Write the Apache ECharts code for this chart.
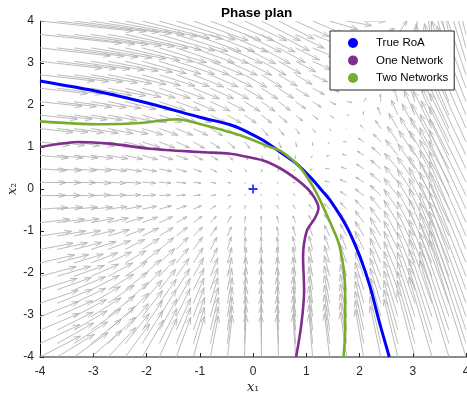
<!DOCTYPE html>
<html><head><meta charset="utf-8">
<script src="https://cdn.jsdelivr.net/npm/echarts@6/dist/echarts.min.js"></script>
<style>html,body{margin:0;padding:0;background:#fff}#c{width:467px;height:401px}</style>
</head><body><div id="c"></div>
<script>
// ---- data read (estimated) from the reference picture ----
const X_TICKS = [-4, -3, -2, -1, 0, 1, 2, 3, 4];
const Y_TICKS = [-4, -3, -2, -1, 0, 1, 2, 3, 4];

// quiver grid positions (26 x 26, step 0.32)
const FIELD_X = [-4,-3.68,-3.36,-3.04,-2.72,-2.4,-2.08,-1.76,-1.44,-1.12,-0.8,-0.48,-0.16,0.16,0.48,0.8,1.12,1.44,1.76,2.08,2.4,2.72,3.04,3.36,3.68,4];
const FIELD_Y = [-4,-3.68,-3.36,-3.04,-2.72,-2.4,-2.08,-1.76,-1.44,-1.12,-0.8,-0.48,-0.16,0.16,0.48,0.8,1.12,1.44,1.76,2.08,2.4,2.72,3.04,3.36,3.68,4];

// drawn arrow components in data units; rows follow FIELD_Y, columns follow FIELD_X
const FIELD_DX = [
[0.76,0.70,0.64,0.58,0.52,0.46,0.40,0.33,0.27,0.21,0.15,0.09,0.03,-0.01,-0.03,-0.05,-0.07,-0.10,-0.12,-0.16,-0.20,-0.26,-0.33,-0.43,-0.55,-0.69],
[0.75,0.69,0.63,0.57,0.51,0.45,0.39,0.33,0.27,0.21,0.15,0.09,0.03,-0.01,-0.03,-0.05,-0.07,-0.10,-0.12,-0.16,-0.20,-0.26,-0.33,-0.43,-0.55,-0.69],
[0.74,0.68,0.62,0.56,0.50,0.44,0.38,0.33,0.27,0.21,0.15,0.09,0.03,-0.01,-0.03,-0.05,-0.07,-0.10,-0.12,-0.16,-0.20,-0.26,-0.33,-0.43,-0.55,-0.69],
[0.73,0.67,0.61,0.56,0.50,0.44,0.38,0.32,0.26,0.20,0.15,0.09,0.03,-0.01,-0.03,-0.05,-0.07,-0.10,-0.12,-0.16,-0.20,-0.26,-0.33,-0.43,-0.55,-0.69],
[0.72,0.66,0.60,0.55,0.49,0.43,0.37,0.32,0.26,0.20,0.14,0.09,0.03,-0.01,-0.03,-0.05,-0.07,-0.10,-0.12,-0.16,-0.20,-0.26,-0.33,-0.43,-0.55,-0.69],
[0.70,0.64,0.59,0.53,0.48,0.42,0.36,0.31,0.25,0.20,0.14,0.08,0.03,-0.01,-0.03,-0.05,-0.07,-0.10,-0.12,-0.16,-0.20,-0.26,-0.33,-0.43,-0.55,-0.69],
[0.68,0.63,0.57,0.52,0.46,0.41,0.35,0.30,0.24,0.19,0.14,0.08,0.03,-0.01,-0.03,-0.05,-0.07,-0.10,-0.12,-0.16,-0.20,-0.26,-0.33,-0.43,-0.55,-0.69],
[0.65,0.60,0.55,0.50,0.44,0.39,0.34,0.29,0.23,0.18,0.13,0.08,0.03,-0.01,-0.03,-0.05,-0.07,-0.10,-0.12,-0.16,-0.20,-0.26,-0.33,-0.43,-0.55,-0.69],
[0.62,0.57,0.52,0.47,0.42,0.37,0.32,0.27,0.22,0.17,0.12,0.07,0.02,-0.01,-0.03,-0.05,-0.07,-0.10,-0.12,-0.16,-0.20,-0.26,-0.33,-0.43,-0.55,-0.69],
[0.59,0.54,0.50,0.45,0.40,0.36,0.31,0.26,0.21,0.17,0.12,0.07,0.02,-0.01,-0.03,-0.05,-0.07,-0.10,-0.12,-0.16,-0.20,-0.26,-0.33,-0.43,-0.55,-0.69],
[0.56,0.52,0.47,0.43,0.38,0.34,0.29,0.25,0.20,0.16,0.11,0.07,0.02,-0.01,-0.03,-0.05,-0.07,-0.10,-0.12,-0.16,-0.20,-0.26,-0.33,-0.43,-0.55,-0.69],
[0.52,0.48,0.44,0.40,0.35,0.31,0.27,0.23,0.19,0.15,0.10,0.06,0.02,-0.01,-0.03,-0.05,-0.07,-0.10,-0.12,-0.16,-0.20,-0.26,-0.33,-0.43,-0.55,-0.69],
[0.48,0.44,0.40,0.36,0.33,0.29,0.25,0.21,0.17,0.13,0.10,0.06,0.02,-0.01,-0.03,-0.05,-0.07,-0.10,-0.12,-0.16,-0.20,-0.26,-0.33,-0.43,-0.55,-0.69],
[0.49,0.45,0.41,0.37,0.33,0.29,0.25,0.22,0.18,0.14,0.10,0.06,0.02,-0.01,-0.03,-0.05,-0.07,-0.09,-0.12,-0.15,-0.20,-0.25,-0.33,-0.42,-0.55,-0.69],
[0.50,0.46,0.42,0.38,0.35,0.31,0.27,0.23,0.19,0.15,0.12,0.08,0.04,0.01,-0.01,-0.03,-0.05,-0.08,-0.10,-0.14,-0.19,-0.25,-0.32,-0.42,-0.54,-0.68],
[0.53,0.49,0.45,0.41,0.37,0.33,0.29,0.26,0.22,0.18,0.14,0.10,0.06,0.03,0.01,-0.01,-0.03,-0.06,-0.08,-0.12,-0.17,-0.23,-0.30,-0.40,-0.52,-0.67],
[0.56,0.52,0.48,0.44,0.41,0.37,0.33,0.29,0.25,0.21,0.18,0.14,0.10,0.07,0.05,0.02,0.00,-0.03,-0.06,-0.10,-0.14,-0.20,-0.28,-0.38,-0.51,-0.65],
[0.62,0.58,0.55,0.51,0.47,0.43,0.39,0.35,0.31,0.27,0.23,0.19,0.15,0.12,0.10,0.07,0.05,0.02,-0.01,-0.06,-0.10,-0.17,-0.24,-0.35,-0.47,-0.62],
[0.70,0.66,0.62,0.58,0.54,0.50,0.46,0.42,0.38,0.34,0.30,0.26,0.22,0.19,0.16,0.13,0.10,0.07,0.04,-0.01,-0.06,-0.12,-0.20,-0.31,-0.44,-0.59],
[0.79,0.74,0.70,0.66,0.62,0.58,0.54,0.49,0.45,0.41,0.37,0.33,0.29,0.25,0.22,0.19,0.16,0.12,0.09,0.04,-0.01,-0.08,-0.16,-0.27,-0.40,-0.55],
[0.89,0.85,0.80,0.76,0.71,0.67,0.62,0.58,0.53,0.49,0.44,0.40,0.35,0.31,0.28,0.25,0.22,0.18,0.14,0.09,0.03,-0.04,-0.12,-0.23,-0.37,-0.52],
[1.02,0.97,0.92,0.87,0.82,0.77,0.72,0.67,0.62,0.57,0.52,0.47,0.42,0.38,0.35,0.31,0.28,0.24,0.20,0.14,0.08,0.01,-0.07,-0.19,-0.33,-0.48],
[1.16,1.11,1.05,1.00,0.94,0.89,0.83,0.78,0.72,0.67,0.62,0.56,0.51,0.46,0.42,0.38,0.35,0.30,0.26,0.20,0.14,0.06,-0.02,-0.14,-0.28,-0.44],
[1.32,1.26,1.20,1.14,1.08,1.02,0.96,0.89,0.83,0.77,0.71,0.65,0.59,0.54,0.50,0.45,0.42,0.37,0.32,0.26,0.20,0.12,0.03,-0.09,-0.24,-0.40],
[1.53,1.46,1.39,1.32,1.25,1.18,1.11,1.04,0.97,0.90,0.83,0.76,0.69,0.63,0.58,0.54,0.50,0.44,0.39,0.33,0.26,0.18,0.09,-0.04,-0.19,-0.35],
[1.75,1.67,1.59,1.51,1.43,1.35,1.27,1.19,1.11,1.03,0.95,0.87,0.79,0.73,0.67,0.63,0.58,0.53,0.47,0.41,0.33,0.24,0.15,0.02,-0.13,-0.30]
];
const FIELD_DY = [
[0.50,0.54,0.58,0.64,0.70,0.79,0.88,0.92,0.95,0.97,0.98,0.99,1.00,1.00,1.00,1.01,1.02,1.04,1.07,1.13,1.22,1.38,1.60,1.90,2.30,2.80],
[0.45,0.49,0.52,0.58,0.63,0.71,0.79,0.83,0.86,0.87,0.88,0.89,0.90,0.90,0.90,0.91,0.92,0.94,0.97,1.03,1.12,1.28,1.50,1.80,2.20,2.70],
[0.40,0.43,0.46,0.51,0.56,0.63,0.70,0.74,0.76,0.78,0.78,0.79,0.80,0.80,0.80,0.81,0.82,0.84,0.87,0.93,1.02,1.18,1.40,1.70,2.10,2.60],
[0.36,0.38,0.41,0.45,0.50,0.56,0.62,0.65,0.67,0.69,0.70,0.70,0.71,0.71,0.71,0.72,0.73,0.75,0.78,0.84,0.93,1.09,1.31,1.61,2.01,2.51],
[0.31,0.33,0.36,0.40,0.43,0.49,0.55,0.57,0.59,0.60,0.61,0.61,0.62,0.62,0.62,0.63,0.64,0.66,0.69,0.75,0.84,1.00,1.22,1.52,1.92,2.42],
[0.27,0.29,0.31,0.34,0.37,0.42,0.47,0.49,0.50,0.51,0.52,0.52,0.53,0.53,0.53,0.54,0.55,0.57,0.60,0.66,0.75,0.91,1.13,1.43,1.83,2.33],
[0.23,0.24,0.26,0.29,0.32,0.36,0.40,0.41,0.43,0.44,0.44,0.45,0.45,0.45,0.45,0.46,0.47,0.49,0.52,0.58,0.67,0.83,1.05,1.35,1.75,2.25],
[0.19,0.20,0.21,0.24,0.26,0.29,0.33,0.34,0.35,0.36,0.36,0.37,0.37,0.37,0.37,0.38,0.39,0.41,0.44,0.50,0.59,0.75,0.97,1.27,1.67,2.17],
[0.15,0.16,0.17,0.19,0.21,0.24,0.26,0.28,0.29,0.29,0.29,0.30,0.30,0.30,0.30,0.31,0.32,0.34,0.37,0.43,0.52,0.68,0.90,1.20,1.60,2.10],
[0.11,0.12,0.13,0.14,0.15,0.17,0.19,0.20,0.21,0.21,0.22,0.22,0.22,0.22,0.22,0.23,0.24,0.26,0.29,0.35,0.44,0.60,0.82,1.12,1.52,2.02],
[0.08,0.08,0.09,0.10,0.11,0.12,0.13,0.14,0.14,0.15,0.15,0.15,0.15,0.15,0.15,0.16,0.17,0.19,0.22,0.28,0.37,0.53,0.75,1.05,1.45,1.95],
[0.04,0.05,0.05,0.05,0.06,0.07,0.07,0.08,0.08,0.08,0.08,0.08,0.09,0.09,0.09,0.10,0.11,0.13,0.16,0.22,0.31,0.47,0.69,0.99,1.39,1.89],
[0.01,0.01,0.01,0.02,0.02,0.02,0.02,0.02,0.02,0.02,0.02,0.02,0.03,0.03,0.03,0.04,0.05,0.07,0.10,0.16,0.25,0.41,0.63,0.93,1.33,1.83],
[-0.01,-0.01,-0.01,-0.02,-0.02,-0.02,-0.02,-0.02,-0.02,-0.02,-0.02,-0.02,-0.03,-0.03,-0.02,-0.01,0.00,0.03,0.06,0.12,0.22,0.38,0.60,0.90,1.30,1.80],
[-0.04,-0.04,-0.04,-0.04,-0.05,-0.06,-0.06,-0.06,-0.07,-0.07,-0.07,-0.07,-0.07,-0.07,-0.06,-0.05,-0.03,0.01,0.04,0.11,0.21,0.37,0.60,0.90,1.30,1.80],
[-0.06,-0.06,-0.06,-0.07,-0.08,-0.09,-0.10,-0.10,-0.10,-0.11,-0.11,-0.11,-0.11,-0.11,-0.10,-0.08,-0.05,-0.02,0.03,0.10,0.20,0.37,0.59,0.90,1.30,1.80],
[-0.08,-0.08,-0.09,-0.10,-0.11,-0.12,-0.13,-0.14,-0.14,-0.15,-0.15,-0.15,-0.15,-0.15,-0.14,-0.11,-0.08,-0.04,0.01,0.09,0.19,0.37,0.59,0.90,1.30,1.80],
[-0.09,-0.09,-0.10,-0.11,-0.12,-0.13,-0.15,-0.16,-0.16,-0.16,-0.17,-0.17,-0.17,-0.17,-0.16,-0.13,-0.09,-0.05,0.01,0.08,0.19,0.36,0.59,0.90,1.30,1.80],
[-0.10,-0.10,-0.11,-0.12,-0.13,-0.15,-0.17,-0.17,-0.18,-0.18,-0.19,-0.19,-0.19,-0.19,-0.18,-0.14,-0.10,-0.06,0.00,0.08,0.19,0.36,0.59,0.90,1.30,1.80],
[-0.11,-0.12,-0.13,-0.14,-0.16,-0.18,-0.20,-0.21,-0.21,-0.22,-0.22,-0.22,-0.23,-0.23,-0.21,-0.17,-0.13,-0.07,-0.02,0.07,0.18,0.36,0.59,0.90,1.30,1.80],
[-0.13,-0.14,-0.15,-0.17,-0.18,-0.21,-0.23,-0.24,-0.25,-0.25,-0.25,-0.26,-0.26,-0.26,-0.24,-0.20,-0.15,-0.09,-0.03,0.06,0.17,0.35,0.59,0.90,1.30,1.80],
[-0.15,-0.16,-0.17,-0.19,-0.21,-0.23,-0.26,-0.27,-0.28,-0.29,-0.29,-0.29,-0.30,-0.30,-0.27,-0.23,-0.17,-0.11,-0.04,0.05,0.17,0.35,0.59,0.90,1.30,1.80],
[-0.17,-0.18,-0.19,-0.21,-0.23,-0.26,-0.29,-0.30,-0.31,-0.32,-0.32,-0.33,-0.33,-0.33,-0.30,-0.25,-0.20,-0.13,-0.06,0.04,0.16,0.35,0.58,0.90,1.30,1.80],
[-0.19,-0.20,-0.22,-0.24,-0.26,-0.30,-0.33,-0.35,-0.36,-0.36,-0.37,-0.37,-0.38,-0.38,-0.35,-0.29,-0.22,-0.15,-0.07,0.03,0.15,0.34,0.58,0.90,1.30,1.80],
[-0.21,-0.23,-0.24,-0.27,-0.29,-0.33,-0.37,-0.39,-0.40,-0.41,-0.41,-0.42,-0.42,-0.42,-0.39,-0.33,-0.25,-0.17,-0.09,0.01,0.14,0.34,0.58,0.90,1.30,1.80],
[-0.24,-0.25,-0.27,-0.30,-0.33,-0.37,-0.41,-0.43,-0.45,-0.46,-0.46,-0.47,-0.47,-0.47,-0.43,-0.37,-0.31,-0.20,-0.11,0.00,0.14,0.33,0.58,0.90,1.30,1.80]
];

const TRUE_ROA = [[-4,2.57],[-2.87,2.31],[-1.93,2.03],[-1.0,1.71],[-0.43,1.53],[-0.24,1.44],[0.19,1.16],[0.53,0.86],[0.82,0.6],[1.1,0.25],[1.29,-0.03],[1.45,-0.27],[1.76,-0.9],[2.01,-1.62],[2.2,-2.33],[2.38,-3.2],[2.56,-4]];
const ONE_NETWORK = [[-4,1.0],[-3.25,1.12],[-2.69,1.08],[-1.93,0.96],[-1.0,0.88],[-0.43,0.84],[-0.24,0.8],[0.19,0.68],[0.5,0.5],[0.82,0.23],[1.03,0.0],[1.15,-0.2],[1.23,-0.45],[1.16,-0.7],[1.01,-1.0],[0.94,-1.62],[0.96,-2.41],[0.91,-3.2],[0.81,-4]];
const TWO_NETWORKS = [[-4,1.61],[-2.87,1.54],[-2.12,1.57],[-1.43,1.66],[-1.0,1.55],[-0.62,1.42],[-0.24,1.28],[0.32,1.0],[0.55,0.88],[0.88,0.52],[1.13,0.05],[1.26,-0.27],[1.45,-0.8],[1.63,-1.38],[1.73,-2.41],[1.73,-3.36],[1.7,-4]];
const EQUILIBRIUM = [[0, 0]];

const quiverData = [];
FIELD_Y.forEach((y, j) => FIELD_X.forEach((x, i) => quiverData.push([x, y, FIELD_DX[j][i], FIELD_DY[j][i]])));

const ARROW = '#b4b4b4';
function renderArrow(params, api) {
  const x = api.value(0), y = api.value(1), dx = api.value(2), dy = api.value(3);
  const p0 = api.coord([x, y]);
  const p1 = api.coord([x + dx, y + dy]);
  const vx = p1[0] - p0[0], vy = p1[1] - p0[1];
  const L = Math.hypot(vx, vy);
  if (L < 0.01) return null;
  const ux = vx / L, uy = vy / L;
  const h = Math.min(0.33 * L, 7), w = h * 0.33;
  const b = [p1[0] - ux * h, p1[1] - uy * h];
  const a1 = [b[0] - uy * w, b[1] + ux * w];
  const a2 = [b[0] + uy * w, b[1] - ux * w];
  const st = { stroke: ARROW, lineWidth: 0.9, fill: null };
  return { type: 'group', children: [
    { type: 'polyline', shape: { points: [p0, p1] }, style: st },
    { type: 'polyline', shape: { points: [a1, p1, a2] }, style: st }
  ]};
}

const FONT = 'Liberation Sans';
const chart = echarts.init(document.getElementById('c'), null, { renderer: 'canvas' });
chart.setOption({
  animation: false,
  backgroundColor: '#fff',
  title: { text: 'Phase plan', left: 216, top: 1,
    textStyle: { fontFamily: FONT, fontSize: 13.5, fontWeight: 'bold', color: '#000' } },
  grid: { left: 40, top: 21, width: 426, height: 336, containLabel: false, outerBoundsMode: 'none' },
  legend: {
    data: ['True RoA', 'One Network', 'Two Networks'],
    orient: 'vertical', left: 330, top: 31,
    icon: 'circle', itemWidth: 10, itemHeight: 10, itemGap: 5.5,
    padding: [6, 6, 6, 18],
    backgroundColor: '#fff', borderColor: '#262626', borderWidth: 1,
    textStyle: { fontFamily: FONT, fontSize: 11.5, color: '#000', padding: [0, 0, 0, 13] }
  },
  xAxis: {
    type: 'value', min: -4, max: 4, interval: 1,
    name: '{i|x}{s|₁}', nameLocation: 'middle', nameGap: 24, nameMoveOverlap: false,
    nameTextStyle: { rich: {
      i: { fontFamily: 'DejaVu Serif', fontStyle: 'italic', fontSize: 13, color: '#262626' },
      s: { fontFamily: 'DejaVu Serif', fontSize: 12, color: '#262626' } } },
    axisLine: { show: true, onZero: false, lineStyle: { color: '#8c8c8c', width: 2 } },
    axisTick: { show: true, inside: true, length: 4, lineStyle: { color: '#262626' } },
    axisLabel: { fontFamily: FONT, fontSize: 12, color: '#262626', margin: 9,
      formatter: v => X_TICKS.includes(v) ? String(v) : '' },
    splitLine: { show: false }
  },
  yAxis: {
    type: 'value', min: -4, max: 4, interval: 1,
    name: '{i|x}{s|₂}', nameLocation: 'middle', nameGap: 21, nameRotate: 90, nameMoveOverlap: false,
    nameTextStyle: { rich: {
      i: { fontFamily: 'DejaVu Serif', fontStyle: 'italic', fontSize: 13, color: '#262626' },
      s: { fontFamily: 'DejaVu Serif', fontSize: 12, color: '#262626' } } },
    axisLine: { show: true, onZero: false, lineStyle: { color: '#000', width: 1 } },
    axisTick: { show: true, inside: true, length: 4, lineStyle: { color: '#262626' } },
    axisLabel: { fontFamily: FONT, fontSize: 12, color: '#262626', margin: 6,
      formatter: v => Y_TICKS.includes(v) ? String(v) : '' },
    splitLine: { show: false }
  },
  series: [
    { type: 'custom', name: 'field', data: quiverData, renderItem: renderArrow,
      encode: { x: 0, y: 1 }, clip: true, silent: true, z: 1 },
    { type: 'line', name: 'True RoA', data: TRUE_ROA, showSymbol: false, smooth: 0.3,
      itemStyle: { color: '#0000ff' }, lineStyle: { color: '#0000ff', width: 3 }, z: 3 },
    { type: 'line', name: 'One Network', data: ONE_NETWORK, showSymbol: false, smooth: 0.3,
      itemStyle: { color: '#7e2f8e' }, lineStyle: { color: '#7e2f8e', width: 2.6 }, z: 4 },
    { type: 'line', name: 'Two Networks', data: TWO_NETWORKS, showSymbol: false, smooth: 0.3,
      itemStyle: { color: '#77ac30' }, lineStyle: { color: '#77ac30', width: 2.6 }, z: 5 },
    { type: 'scatter', name: 'origin', data: EQUILIBRIUM, symbol: 'path://M4,0h2v4h4v2h-4v4h-2v-4h-4v-2h4z',
      symbolSize: 9, itemStyle: { color: '#0000ff' }, z: 6 }
  ]
});
</script></body></html>
